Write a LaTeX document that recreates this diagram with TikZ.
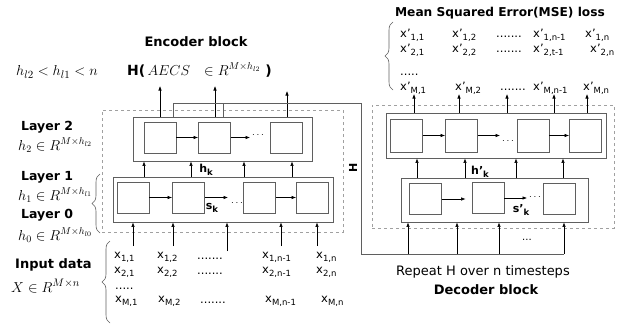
\documentclass[tikz,border=0pt]{standalone}
\usepackage{fontspec}
\setmainfont{DejaVu Sans}
\usetikzlibrary{arrows.meta,decorations.pathreplacing}
\definecolor{boxc}{RGB}{95,95,95}
\definecolor{dashc}{RGB}{160,160,160}
\newcommand\sbs[1]{\raisebox{-0.45ex}{\fontsize{8.5}{9}\selectfont #1}}
\begin{document}
\begin{tikzpicture}[x=1pt,y=-1pt,
  cell/.style={draw=boxc,line width=0.9pt,minimum width=32pt,minimum height=31pt,inner sep=0pt},
  layer/.style={draw=boxc,line width=0.9pt,inner sep=0pt},
  dashbox/.style={draw=dashc,dashed,line width=0.5pt,inner sep=0pt},
  arr/.style={-{Latex[length=4.5pt,width=3.5pt]},line width=0.6pt},
  ent/.style={anchor=west,inner sep=0pt,font=\fontsize{11.5}{12}\selectfont},
  lbl/.style={inner sep=0pt,font=\bfseries\fontsize{11}{12}\selectfont},
  big/.style={inner sep=0pt,font=\bfseries\fontsize{13}{14}\selectfont},
  lay/.style={inner sep=0pt,anchor=west,font=\bfseries\fontsize{12.5}{13}\selectfont},
  mth/.style={anchor=west,inner sep=0pt},
  brc/.style={draw=boxc,line width=0.6pt,decorate,decoration={brace,amplitude=8pt}}]
\useasboundingbox (0,0) rectangle (624,324);
% ---------------- titles / left labels
\node[big] (enc) at (196,42) {Encoder block};
\node[mth] (Hx) at (127,70) {\bfseries\fontsize{14}{15}\selectfont H(\,{\fontsize{14.5}{15}\selectfont$AECS\ \ \in R^{M\times h_{l2}}$}\ )};
\node[mth] (ineq) at (16,72) {\fontsize{15.5}{16}\selectfont $h_{l2}<h_{l1}<n$};
\node[lay] (l2) at (21,127) {Layer 2};
\node[mth] (l2m) at (18,145) {\fontsize{14}{15}\selectfont $h_2\in R^{M\times h_{l2}}$};
\node[lay] (l1) at (21,177) {Layer 1};
\node[mth] (l1m) at (18,195) {\fontsize{14}{15}\selectfont $h_1\in R^{M\times h_{l1}}$};
\node[lay] (l0) at (21,215) {Layer 0};
\node[mth] (l0m) at (18,235) {\fontsize{14}{15}\selectfont $h_0\in R^{M\times h_{l0}}$};
\node[lay,font=\bfseries\fontsize{13}{14}\selectfont] (ind) at (15,265) {Input data};
\node[mth] (Xm) at (11,286) {\fontsize{15}{16}\selectfont $X\in R^{M\times n}$};
\draw[brc] (100,233) -- (100,174);
\draw[brc] (110,323) -- (110,241);
% ---------------- encoder
\node[dashbox,minimum width=241pt,minimum height=122pt] (ED) at (222.5,171) {};
\node[layer,minimum width=179pt,minimum height=44pt] (E2) at (222.5,139) {};
\node[cell] (e2a) at (160,137.5) {};
\node[cell] (e2b) at (214.5,137.5) {};
\node[cell] (e2c) at (286,137.5) {};
\node[layer,minimum width=220pt,minimum height=45pt] (E1) at (223,199.5) {};
\node[cell] (e1a) at (133,197.5) {};
\node[cell] (e1b) at (188.5,197.5) {};
\node[cell] (e1c) at (259.5,197.5) {};
\node[cell] (e1d) at (312.5,197.5) {};
\coordinate (e2x) at (250,137.5);
\coordinate (e1x) at (228,197.5);
\node[inner sep=0pt] (e2dots) at (258,135) {$\cdots$};
\node[inner sep=0pt] (e1dots) at (237,203) {$\cdots$};
\draw[arr] (e2a) -- (e2b);
\draw[arr] (e2b) -- (e2x);
\draw[arr] (e1a) -- (e1b);
\draw[arr] (e1b) -- (e1x);
\draw[arr] (e1c) -- (e1d);
\foreach \x in {144,191,244,292} \draw[arr] (E1.north -| \x,0) -- (E2.south -| \x,0);
\node[lbl] (hk) at (206,170) {h\sbs{\bfseries k}};
\node[lbl] (sk) at (212,208) {s\sbs{\bfseries k}};
% inputs
\coordinate (i1) at (133,246);
\coordinate (i2) at (173,246);
\coordinate (i3) at (227,251);
\coordinate (i4) at (281,246);
\coordinate (i5) at (317,246);
\foreach \c in {i1,i2,i3,i4,i5} \draw[arr] (\c) -- (E1.south -| \c);
% outputs
\coordinate (o1) at (160,86);
\coordinate (o2) at (215,86);
\coordinate (o3) at (287,91);
\foreach \c in {o1,o2,o3} \draw[arr] (E2.north -| \c) -- (\c);
% H connector
\coordinate (h1) at (173,103);
\coordinate (h2) at (223,103);
\coordinate (hc) at (361,103);
\coordinate (hb) at (361,254);
\coordinate (he) at (564,254);
\draw[boxc,line width=0.8pt] (E2.north -| h1) -- (h1) -- (hc) -- (hb) -- (he);
\draw[boxc,line width=0.8pt] (E2.north -| h2) -- (h2);
\node[lbl,rotate=90] (Hl) at (353,168) {H};
% input matrix
\node[ent] (x11) at (114,257) {x\sbs{1,1}};
\node[ent] (x12) at (157,257) {x\sbs{1,2}};
\node[ent] (x1d) at (197,259) {.......};
\node[ent] (x1m) at (262,257) {x\sbs{1,n-1}};
\node[ent] (x1n) at (316,257) {x\sbs{1,n}};
\node[ent] (x21) at (114,272) {x\sbs{2,1}};
\node[ent] (x22) at (157,272) {x\sbs{2,2}};
\node[ent] (x2d) at (197,274) {.......};
\node[ent] (x2m) at (262,272) {x\sbs{2,n-1}};
\node[ent] (x2n) at (316,272) {x\sbs{2,n}};
\node[ent] (xdd) at (115,289) {.....};
\node[ent] (xM1) at (115,301) {x\sbs{M,1}};
\node[ent] (xM2) at (158,301) {x\sbs{M,2}};
\node[ent] (xMd) at (200,303) {.......};
\node[ent] (xMm) at (265,301) {x\sbs{M,n-1}};
\node[ent] (xMn) at (321,301) {x\sbs{M,n}};
% ---------------- decoder
\node[dashbox,minimum width=242pt,minimum height=123pt] (DD) at (493,166.5) {};
\node[layer,minimum width=220pt,minimum height=45pt] (D2) at (496,135.5) {};
\node[cell,minimum height=33pt] (d2a) at (406.5,135.5) {};
\node[cell,minimum height=33pt] (d2b) at (461.5,135.5) {};
\node[cell,minimum height=33pt] (d2c) at (533,135.5) {};
\node[cell,minimum height=33pt] (d2d) at (585.5,135.5) {};
\node[layer,minimum width=187pt,minimum height=44pt] (D1) at (494.5,200) {};
\node[cell] (d1a) at (425.5,199) {};
\node[cell] (d1b) at (488,198) {};
\node[cell] (d1c) at (559.5,199) {};
\coordinate (d2x) at (500,135.5);
\coordinate (d1x) at (527,198);
\node[inner sep=0pt] (d2dots) at (508,141) {$\cdots$};
\node[inner sep=0pt] (d1dots) at (535,197) {$\cdots$};
\draw[arr] (d2a) -- (d2b);
\draw[arr] (d2b) -- (d2x);
\draw[arr] (d2c) -- (d2d);
\draw[arr,shorten >=6pt] (d1a.east) -- (d1b.west |- d1a.east);
\draw[arr] (d1b.east |- d1x) -- (d1x);
\foreach \x in {417,465,516,563} \draw[arr] (D1.north -| \x,0) -- (D2.south -| \x,0);
\node[lbl] (hpk) at (480,172) {h’\sbs{\bfseries k}};
\node[lbl] (spk) at (521,210) {s’\sbs{\bfseries k}};
\coordinate (t1) at (408,254);
\coordinate (t2) at (457,254);
\coordinate (t3) at (499,254);
\foreach \c in {t1,t2,t3,he} \draw[arr] (\c) -- (D1.south -| \c);
\node[inner sep=0pt] (tdots) at (527,240) {...};
% decoder outputs
\coordinate (u1) at (414,94);
\coordinate (u2) at (459,94);
\coordinate (u3) at (507,94);
\coordinate (u4) at (554,94);
\coordinate (u5) at (587,94);
\foreach \c in {u1,u2,u3,u4,u5} \draw[arr] (D2.north -| \c) -- (\c);
\node[lbl,font=\bfseries\fontsize{12.2}{13}\selectfont] (mse) at (500,13) {Mean Squared Error(MSE) loss};
\draw[brc] (393,90) -- (393,22);
\node[ent] (y11) at (400,35) {x’\sbs{1,1}};
\node[ent] (y12) at (452,35) {x’\sbs{1,2}};
\node[ent] (y1d) at (496,37) {.......};
\node[ent] (y1m) at (533,35) {x’\sbs{1,n-1}};
\node[ent] (y1n) at (585,35) {x’\sbs{1,n}};
\node[ent] (y21) at (400,50) {x’\sbs{2,1}};
\node[ent] (y22) at (452,50) {x’\sbs{2,2}};
\node[ent] (y2d) at (496,52) {.......};
\node[ent] (y2m) at (533,50) {x’\sbs{2,t-1}};
\node[ent] (y2n) at (590,50) {x’\sbs{2,n}};
\node[ent] (ydd) at (400,75) {.....};
\node[ent] (yM1) at (400,88) {x’\sbs{M,1}};
\node[ent] (yM2) at (455,88) {x’\sbs{M,2}};
\node[ent] (yMd) at (500,90) {.......};
\node[ent] (yMm) at (533,88) {x’\sbs{M,n-1}};
\node[ent] (yMn) at (583,88) {x’\sbs{M,n}};
\node[inner sep=0pt,font=\fontsize{13}{14}\selectfont] (rep) at (483,272) {Repeat H over n timesteps};
\node[big] (dec) at (486,290) {Decoder block};
\end{tikzpicture}
\end{document}
